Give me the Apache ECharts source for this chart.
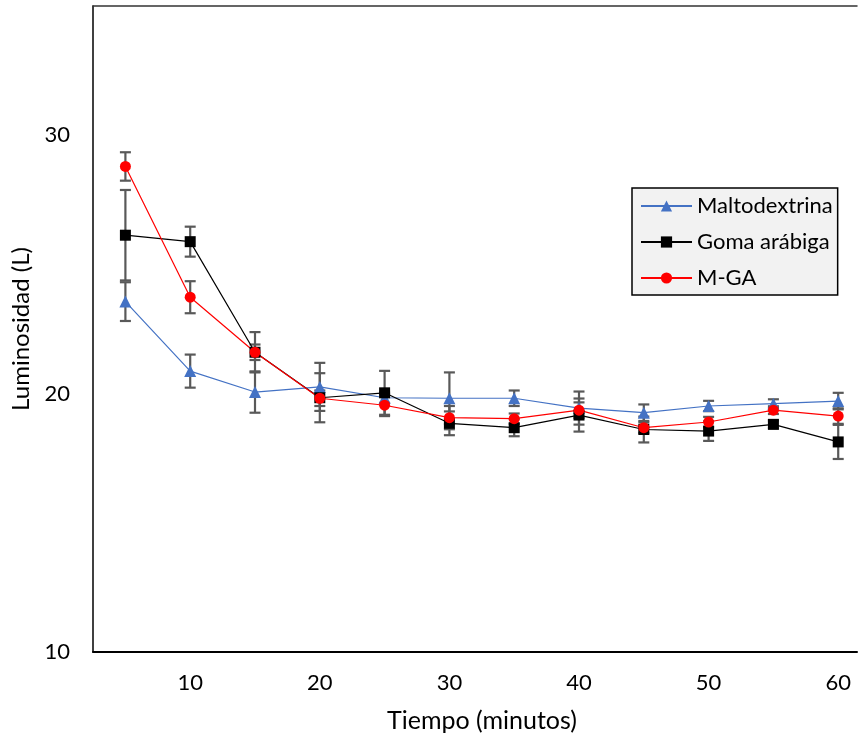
<!DOCTYPE html>
<html>
<head>
  <meta charset="utf-8" />
  <title>Luminosidad</title>
  <script src="https://cdn.jsdelivr.net/npm/echarts@6/dist/echarts.min.js"></script>
  <style>
    html, body { margin: 0; padding: 0; background: #fff; }
  </style>
</head>
<body>
<div id="main" style="width: 860px;height:740px;"></div>
<script type="text/javascript">
  // tiempo en minutos
  var tiempo = [5, 10, 15, 20, 25, 30, 35, 40, 45, 50, 55, 60];

  var maltodextrina = [23.56, 20.87, 20.06, 20.26, 19.84, 19.82, 19.82, 19.44, 19.26, 19.52, 19.61, 19.71];
  var maltoError = [0.75, 0.64, 0.8, 0.93, 0.2, 1.0, 0.3, 0.64, 0.32, 0.2, 0.17, 0.32];

  var gomaArabiga = [26.13, 25.88, 21.6, 19.84, 20.03, 18.85, 18.68, 19.17, 18.61, 18.55, 18.81, 18.13];
  var gomaError = [1.75, 0.58, 0.78, 0.95, 0.85, 0.46, 0.33, 0.64, 0.5, 0.38, 0.15, 0.66];

  var mga = [28.79, 23.73, 21.6, 19.82, 19.55, 19.07, 19.03, 19.36, 18.68, 18.9, 19.36, 19.13];
  var mgaError = [0.55, 0.62, 0.3, 0.3, 0.42, 0.45, 0.2, 0.3, 0.2, 0.2, 0.15, 0.3];

  var fuente = 'Lato';

  function pares(vals) {
    var out = [];
    for (var i = 0; i < tiempo.length; i++) out.push([tiempo[i], vals[i]]);
    return out;
  }
  function barras(vals, errs) {
    var out = [];
    for (var i = 0; i < tiempo.length; i++) out.push([tiempo[i], vals[i] - errs[i], vals[i] + errs[i]]);
    return out;
  }

  function dibujaError(params, api) {
    var lo = api.coord([api.value(0), api.value(1)]);
    var hi = api.coord([api.value(0), api.value(2)]);
    var w = 5.5;
    var st = { stroke: '#595959', lineWidth: 2.2 };
    return {
      type: 'group',
      children: [
        { type: 'line', shape: { x1: lo[0], y1: lo[1], x2: hi[0], y2: hi[1] }, style: st },
        { type: 'line', shape: { x1: lo[0] - w, y1: lo[1], x2: lo[0] + w, y2: lo[1] }, style: st },
        { type: 'line', shape: { x1: hi[0] - w, y1: hi[1], x2: hi[0] + w, y2: hi[1] }, style: st }
      ]
    };
  }

  var etiqueta = function (v) { return (Math.abs(v % 10) < 1e-6) ? String(v) : ''; };

  var chart = echarts.init(document.getElementById('main'));
  var option = {
    backgroundColor: '#fff',
    animation: false,
    grid: { left: 93, top: 6, right: 0, height: 646 },
    legend: {
      orient: 'vertical',
      left: 632,
      top: 188,
      itemWidth: 51,
      itemHeight: 14,
      itemGap: 14,
      padding: [7, 5, 6, 8],
      backgroundColor: '#f2f2f2',
      borderColor: '#000',
      borderWidth: 1.5,
      borderRadius: 0,
      textStyle: { fontFamily: fuente, fontSize: 22, lineHeight: 22, color: '#000' },
      data: ['Maltodextrina', 'Goma arábiga', 'M-GA']
    },
    xAxis: [{
      type: 'value',
      min: 2.5,
      max: 61.45,
      interval: 2.5,
      name: 'Tiempo (minutos)',
      nameLocation: 'middle',
      nameGap: 56,
      nameTextStyle: { fontFamily: fuente, fontSize: 25, color: '#000', padding: [0, 0, 0, 14] },
      axisLine: { lineStyle: { color: '#000', width: 2 } },
      axisTick: { show: false },
      splitLine: { show: false },
      axisLabel: { fontFamily: fuente, fontSize: 22, color: '#000', margin: 20, formatter: etiqueta }
    }, {
      type: 'value',
      position: 'top',
      min: 2.5,
      max: 61.45,
      axisLine: { show: true, lineStyle: { color: '#333', width: 1.5 } },
      axisTick: { show: false },
      axisLabel: { show: false },
      splitLine: { show: false }
    }],
    yAxis: {
      type: 'value',
      min: 10,
      max: 35,
      interval: 10,
      name: 'Luminosidad (L)',
      nameLocation: 'middle',
      nameGap: 58,
      nameTextStyle: { fontFamily: fuente, fontSize: 24, color: '#000' },
      axisLine: { show: true, lineStyle: { color: '#000', width: 1.5 } },
      axisTick: { show: false },
      splitLine: { show: false },
      axisLabel: { fontFamily: fuente, fontSize: 22, color: '#000', margin: 23, formatter: etiqueta }
    },
    series: [
      { type: 'custom', renderItem: dibujaError, data: barras(maltodextrina, maltoError), z: 1, silent: true, encode: { x: 0, y: [1, 2] } },
      { type: 'custom', renderItem: dibujaError, data: barras(gomaArabiga, gomaError), z: 1, silent: true, encode: { x: 0, y: [1, 2] } },
      { type: 'custom', renderItem: dibujaError, data: barras(mga, mgaError), z: 1, silent: true, encode: { x: 0, y: [1, 2] } },
      {
        name: 'Maltodextrina', type: 'line', data: pares(maltodextrina), z: 3,
        symbol: 'triangle', symbolSize: 12,
        itemStyle: { color: '#4472c4' }, lineStyle: { color: '#4472c4', width: 1.2 }
      },
      {
        name: 'Goma arábiga', type: 'line', data: pares(gomaArabiga), z: 3,
        symbol: 'rect', symbolSize: 11,
        itemStyle: { color: '#000' }, lineStyle: { color: '#000', width: 1.2 }
      },
      {
        name: 'M-GA', type: 'line', data: pares(mga), z: 3,
        symbol: 'circle', symbolSize: 11,
        itemStyle: { color: '#ff0000' }, lineStyle: { color: '#ff0000', width: 1.2 }
      }
    ]
  };
  chart.setOption(option);
</script>
</body>
</html>
